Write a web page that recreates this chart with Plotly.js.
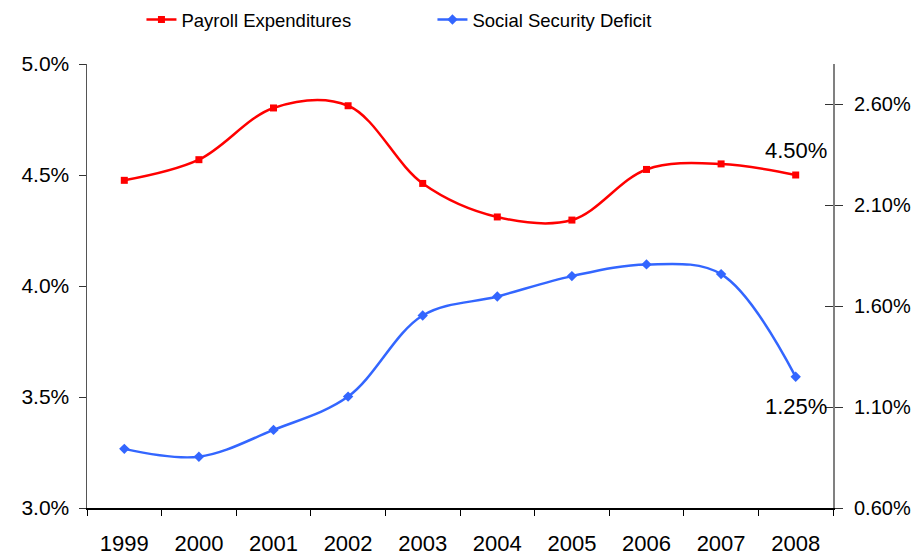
<!DOCTYPE html>
<html>
<head>
<meta charset="utf-8">
<script src="https://cdn.plot.ly/plotly-3.0.1.min.js"></script>
<style>
html,body{margin:0;padding:0;background:#fff;}
#chart{width:919px;height:555px;}
</style>
</head>
<body>
<div id="chart"></div>
<script>
const years = ['1999','2000','2001','2002','2003','2004','2005','2006','2007','2008'];
const payroll = [4.476, 4.569, 4.802, 4.812, 4.462, 4.311, 4.297, 4.525, 4.550, 4.50];
const socialDeficit = [0.893, 0.854, 0.987, 1.152, 1.554, 1.648, 1.749, 1.807, 1.759, 1.25];
const payrollLabel = '4.50%';
const deficitLabel = '1.25%';
const seriesNames = ['Payroll Expenditures', 'Social Security Deficit'];

const FONT = 'Liberation Sans, Arial, sans-serif';
const last = years.length - 1;

const traces = [
  {
    x: years, y: payroll, name: seriesNames[0], type: 'scatter',
    mode: 'lines+markers',
    line: {color: '#FF0000', width: 2.5, shape: 'spline', smoothing: 1},
    marker: {symbol: 'square', size: 7, color: '#FF0000'},
    yaxis: 'y', cliponaxis: false
  },
  {
    x: years, y: socialDeficit, name: seriesNames[1], type: 'scatter',
    mode: 'lines+markers',
    line: {color: '#3366FF', width: 2.5, shape: 'spline', smoothing: 1},
    marker: {symbol: 'diamond', size: 8, color: '#3366FF'},
    yaxis: 'y2', cliponaxis: false
  },
  {x: years, y: socialDeficit, yaxis: 'y3', type: 'scatter', mode: 'none',
   showlegend: false, hoverinfo: 'skip'}
];

const layout = {
  width: 919, height: 555,
  margin: {l: 87, r: 86, t: 64, b: 47, pad: 0, autoexpand: false},
  paper_bgcolor: '#fff', plot_bgcolor: '#fff',
  font: {family: FONT, size: 20, color: '#000'},
  showlegend: true,
  legend: {
    orientation: 'h', x: 0.073, xanchor: 'left', y: 1.099, yanchor: 'middle',
    font: {family: FONT, size: 18.5, color: '#000'},
    entrywidth: 246, entrywidthmode: 'pixels', bgcolor: 'rgba(0,0,0,0)'
  },
  annotations: [
    {x: last, y: payroll[last], xref: 'x', yref: 'y', text: payrollLabel,
     showarrow: false, yshift: 25, font: {family: FONT, size: 22, color: '#000'}},
    {x: last, y: socialDeficit[last], xref: 'x', yref: 'y2', text: deficitLabel,
     showarrow: false, yshift: -30, font: {family: FONT, size: 22, color: '#000'}}
  ],
  xaxis: {
    type: 'category', range: [-0.5, 9.5], tickson: 'boundaries',
    ticks: 'outside', ticklen: 6, tickcolor: '#000', tickwidth: 1,
    showline: true, linecolor: '#000', linewidth: 1.5,
    showgrid: false, zeroline: false, ticklabelstandoff: 15,
    tickfont: {family: FONT, size: 22, color: '#000'}
  },
  yaxis: {
    range: [3, 5], tick0: 3, dtick: 0.5, tickformat: '.1f', ticksuffix: '%',
    ticks: 'outside', ticklen: 7, tickcolor: '#333', tickwidth: 1,
    showline: true, linecolor: '#555', linewidth: 1.5,
    showgrid: false, zeroline: false, ticklabelstandoff: 5,
    tickfont: {family: FONT, size: 21, color: '#000'}
  },
  yaxis2: {
    overlaying: 'y', side: 'right',
    range: [0.6, 2.8], tick0: 0.6, dtick: 0.5, tickformat: '.2f', ticksuffix: '%',
    ticks: 'outside', ticklen: 8, tickcolor: '#333', tickwidth: 1,
    showline: true, linecolor: '#808080', linewidth: 2,
    showgrid: false, zeroline: false, ticklabelstandoff: 7,
    tickfont: {family: FONT, size: 20, color: '#000'}
  },
  yaxis3: {
    overlaying: 'y', side: 'right',
    range: [0.6, 2.8], tick0: 0.6, dtick: 0.5,
    ticks: 'inside', ticklen: 8, tickcolor: '#333', tickwidth: 1,
    showticklabels: false, showline: false,
    showgrid: false, zeroline: false
  }
};

Plotly.newPlot('chart', traces, layout, {displayModeBar: false, staticPlot: true});
</script>
</body>
</html>
